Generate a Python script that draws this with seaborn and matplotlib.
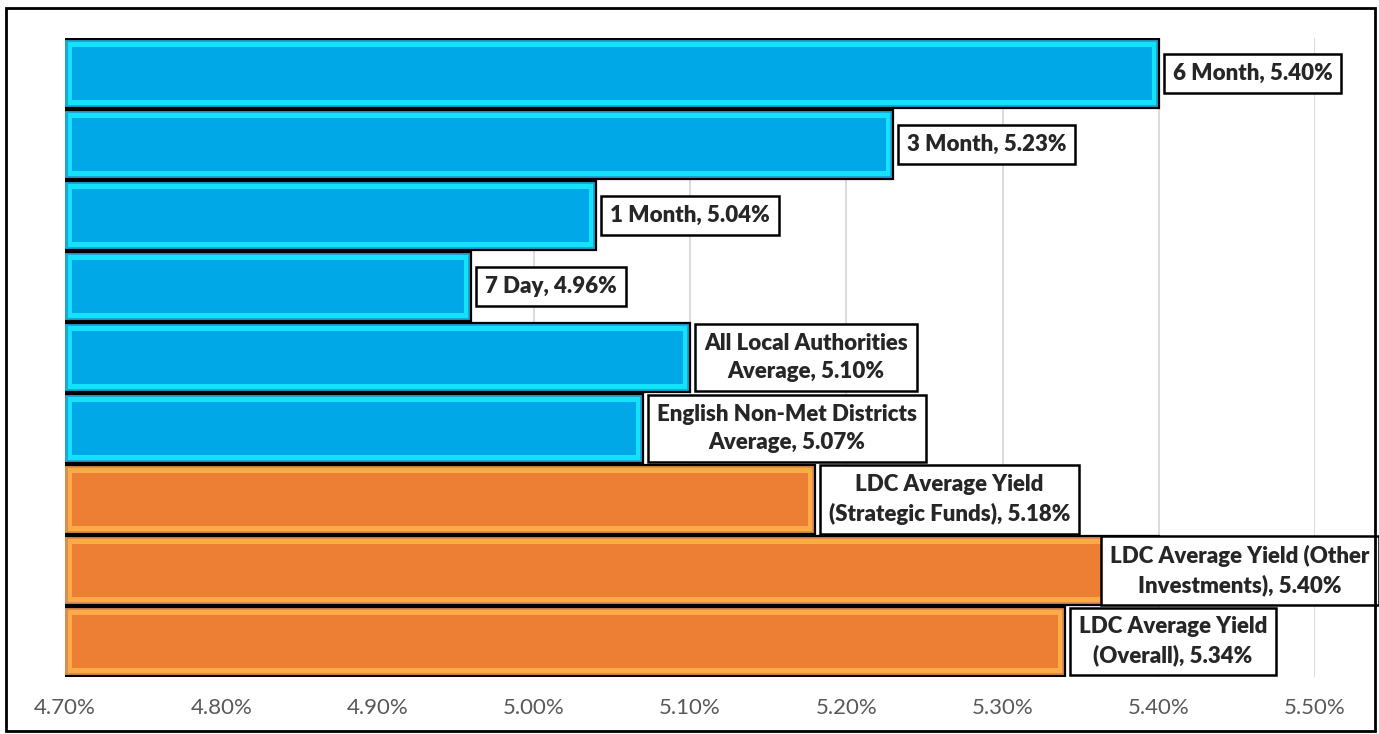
import pandas as pd
import numpy as np
import matplotlib
matplotlib.use("Agg")
import matplotlib.pyplot as plt
import matplotlib.transforms as mtransforms
from matplotlib.patches import Rectangle
import seaborn as sns

# data
categories = ['6 Month', '3 Month', '1 Month', '7 Day',
              'All Local Authorities Average', 'English Non-Met Districts Average',
              'LDC Average Yield (Strategic Funds)', 'LDC Average Yield (Other Investments)',
              'LDC Average Yield (Overall)']
values = [5.40, 5.23, 5.04, 4.96, 5.10, 5.07, 5.18, 5.40, 5.34]
groups = ['Benchmark'] * 6 + ['LDC'] * 3
labels = ['6 Month, 5.40%', '3 Month, 5.23%', '1 Month, 5.04%', '7 Day, 4.96%',
          'All Local Authorities\nAverage, 5.10%',
          'English Non-Met Districts\nAverage, 5.07%',
          'LDC Average Yield\n(Strategic Funds), 5.18%',
          'LDC Average Yield (Other\nInvestments), 5.40%',
          'LDC Average Yield\n(Overall), 5.34%']
xticks = [4.70, 4.80, 4.90, 5.00, 5.10, 5.20, 5.30, 5.40, 5.50]

df = pd.DataFrame({'category': categories, 'value': values, 'group': groups})

sns.set_style("white")
plt.rcParams['font.family'] = ['Lato', 'DejaVu Sans']

base = {'Benchmark': '#00b4f2', 'LDC': '#f3873a'}
light = {'Benchmark': '#14e2fc', 'LDC': '#fdaa48'}
center = {'Benchmark': '#00a8e8', 'LDC': '#ec7f33'}

fig = plt.figure(figsize=(13.79, 7.34), dpi=100)
ax = fig.add_axes([65 / 1379, 1 - 677 / 734, 1250 / 1379, (677 - 38) / 734])

ax.set_xlim(4.70, 5.50)
ax.set_axisbelow(True)
ax.xaxis.grid(True, color='#d9d9d9', linewidth=1.3)

sns.barplot(data=df, x='value', y='category', hue='group', palette=base,
            dodge=False, width=0.97, edgecolor='black', linewidth=1.6,
            legend=False, ax=ax, zorder=2)

# bevel effect: lighter inner frame and darker centre
x0 = 4.70
px = 0.1 / 156.25
for i, (v, g) in enumerate(zip(values, groups)):
    ax.barh(i, v - x0 - 6 * px, left=x0 + 3 * px, height=0.88,
            color=light[g], linewidth=0, zorder=3)
    ax.barh(i, v - x0 - 14 * px, left=x0 + 7 * px, height=0.76,
            color=center[g], linewidth=0, zorder=4)

ax.set_ylim(8.5, -0.5)

box = dict(boxstyle='square,pad=0.4', facecolor='white', edgecolor='black', linewidth=1.8)
blend = mtransforms.blended_transform_factory(ax.transAxes, ax.transData)
for i, (v, lab) in enumerate(zip(values, labels)):
    if i == 7:
        ax.text(0.94, i, lab, transform=blend, ha='center', va='center',
                multialignment='center', fontsize=16, fontweight='heavy',
                linespacing=1.4, bbox=box, zorder=6, clip_on=False)
    else:
        ax.annotate(lab, xy=(v, i), xytext=(10, 0), textcoords='offset points',
                    ha='left', va='center', multialignment='center',
                    fontsize=16, fontweight='heavy', linespacing=1.4,
                    bbox=box, zorder=6, annotation_clip=False)

ax.set_xticks(xticks)
ax.set_xticklabels([f'{t:.2f}%' for t in xticks])
ax.tick_params(axis='x', length=0, pad=15, labelsize=16, labelcolor='#595959')
ax.set_yticks([])
ax.set_xlabel('')
ax.set_ylabel('')
for s in ax.spines.values():
    s.set_visible(False)

fig.patches.append(Rectangle((6 / 1379, 3 / 734), 1369 / 1379, 723 / 734,
                             transform=fig.transFigure, fill=False,
                             edgecolor='black', linewidth=2))

fig.savefig('out.png', dpi=100)
